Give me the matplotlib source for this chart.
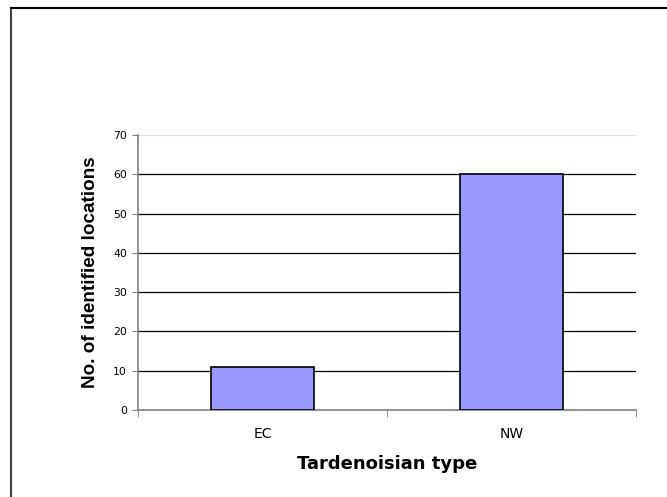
import matplotlib
matplotlib.use("Agg")
import matplotlib.pyplot as plt
from matplotlib.lines import Line2D
import numpy as np

categories = ["EC", "NW"]
values = [11, 60]
yticks = [0, 10, 20, 30, 40, 50, 60, 70]

W, H = 667, 497
fig = plt.figure(figsize=(W / 100, H / 100), dpi=100)
fig.patch.set_facecolor("white")

# outer frame (left and top edges visible)
fig.add_artist(Line2D([11 / W, 11 / W], [0, 1 - 8 / H], transform=fig.transFigure,
                      color="#404040", lw=1.5))
fig.add_artist(Line2D([11 / W, 1], [1 - 8 / H, 1 - 8 / H], transform=fig.transFigure,
                      color="black", lw=1.5))

ax = fig.add_axes([138 / W, 1 - 410 / H, (636 - 138) / W, (410 - 135) / H])
x = np.arange(len(categories))
ax.set_xlim(-0.5, len(categories) - 0.5)
ax.set_ylim(0, 70)

for y in yticks[1:-1]:
    ax.axhline(y, color="black", lw=0.9, zorder=1)
ax.axhline(70, color="#e0e0e0", lw=0.9, zorder=1)

ax.bar(x, values, width=0.41, color="#9999FF", edgecolor="black", linewidth=1.2, zorder=3)

for s in ["top", "right"]:
    ax.spines[s].set_visible(False)
ax.spines["left"].set_color("#808080")
ax.spines["bottom"].set_color("#808080")
ax.spines["left"].set_linewidth(1.2)
ax.spines["bottom"].set_linewidth(1.2)

ax.set_yticks(yticks)
ax.set_yticklabels([str(v) for v in yticks], fontsize=7.8)
ax.tick_params(axis="y", direction="out", length=4, color="#808080", pad=4)

ax.set_xticks(x)
ax.set_xticklabels(categories, fontsize=10)
ax.tick_params(axis="x", length=0, pad=12)
# boundary ticks between categories
ax.set_xticks([-0.5, 0.5, 1.5], minor=True)
ax.tick_params(axis="x", which="minor", direction="out", length=5, color="#808080")

ax.set_xlabel("Tardenoisian type", fontsize=13, fontweight="bold", labelpad=10,
              family="DejaVu Sans")
ax.set_ylabel("No. of identified locations", fontsize=13.6, fontweight="bold", labelpad=10,
              family="Liberation Sans")

fig.savefig("out.png", dpi=100)
